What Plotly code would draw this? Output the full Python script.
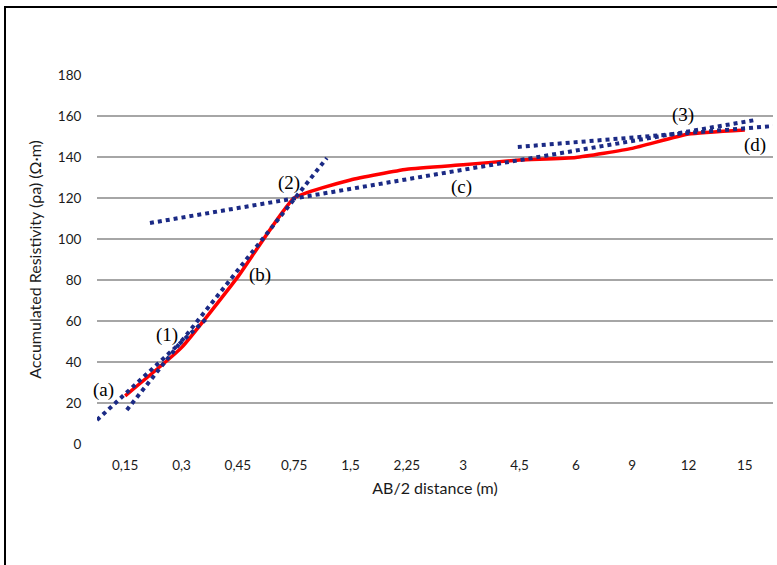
import plotly.graph_objects as go

# Data
categories = ["0,15", "0,3", "0,45", "0,75", "1,5", "2,25", "3", "4,5", "6", "9", "12", "15"]
resistivity = [23.5, 47, 81.5, 120, 128.8, 134, 136.2, 138.5, 139.8, 144.2, 151.2, 153.2]

# Trend lines (category-index position, value)
trend_a_x = [-0.5, 1.45]
trend_a_y = [11.7, 61.3]
trend_b_x = [0.03, 3.58]
trend_b_y = [16.6, 139.5]
trend_c_x = [0.44, 11.18]
trend_c_y = [107.8, 158.0]
trend_d_x = [6.97, 11.5]
trend_d_y = [144.9, 155.1]

label_texts = ["(a)", "(1)", "(b)", "(2)", "(c)", "(3)", "(d)"]
label_x = [-0.39, 0.74, 2.39, 2.91, 5.97, 9.9, 11.18]
label_y = [26.2, 53.2, 82.4, 127.1, 125.5, 160.5, 145.8]

x_idx = list(range(len(categories)))

fig = go.Figure()

fig.add_trace(go.Scatter(x=x_idx, y=resistivity, mode="lines",
                         line=dict(color="#ff0000", width=3.5, shape="spline", smoothing=0.4),
                         showlegend=False))

trend_color = "#1b2a85"
for tx, ty in [(trend_a_x, trend_a_y), (trend_b_x, trend_b_y), (trend_c_x, trend_c_y), (trend_d_x, trend_d_y)]:
    fig.add_trace(go.Scatter(x=tx, y=ty, mode="lines",
                             line=dict(color=trend_color, width=4, dash="dot"),
                             showlegend=False, hoverinfo="skip"))

for t, lx, ly in zip(label_texts, label_x, label_y):
    fig.add_annotation(x=lx, y=ly, text=t, showarrow=False,
                       font=dict(family="Liberation Serif", size=19, color="#000000"),
                       bgcolor="rgba(0,0,0,0)")

# outer frame
fig.add_shape(type="rect", xref="paper", yref="paper",
              x0=(5 - 97) / 676, x1=(790 - 97) / 676,
              y0=(444 - 580) / 369, y1=(444 - 7) / 369,
              line=dict(color="#000000", width=2), layer="above")

fig.update_layout(
    width=777, height=565,
    margin=dict(l=97, r=4, t=75, b=121),
    paper_bgcolor="white", plot_bgcolor="white",
    font=dict(family="Lato", size=13, color="#1a1a1a"),
    xaxis=dict(
        range=[-0.5, 11.5], tickvals=x_idx, ticktext=categories,
        showgrid=False, zeroline=False, showline=False,
        ticks="outside", ticklen=9, tickcolor="rgba(0,0,0,0)",
        tickfont=dict(family="Lato", size=13.5, color="#1a1a1a"),
        title=dict(text="AB/2 distance (m)", standoff=10,
                   font=dict(family="Lato", size=16, color="#1a1a1a")),
    ),
    yaxis=dict(
        range=[0, 180], dtick=20, tick0=0,
        showgrid=True, gridcolor="#a6a6a6", gridwidth=1.5,
        zeroline=False, showline=False,
        ticks="outside", ticklen=12, tickcolor="rgba(0,0,0,0)",
        tickfont=dict(family="Lato", size=13.5, color="#1a1a1a"),
        title=dict(text="Accumulated Resistivity (ρa) (Ω·m)", standoff=12,
                   font=dict(family="Lato", size=16, color="#1a1a1a")),
    ),
)

fig.write_html("out.html",
               config={"displayModeBar": False},
               post_script="document.body.style.margin='0';document.body.style.overflow='hidden';")
